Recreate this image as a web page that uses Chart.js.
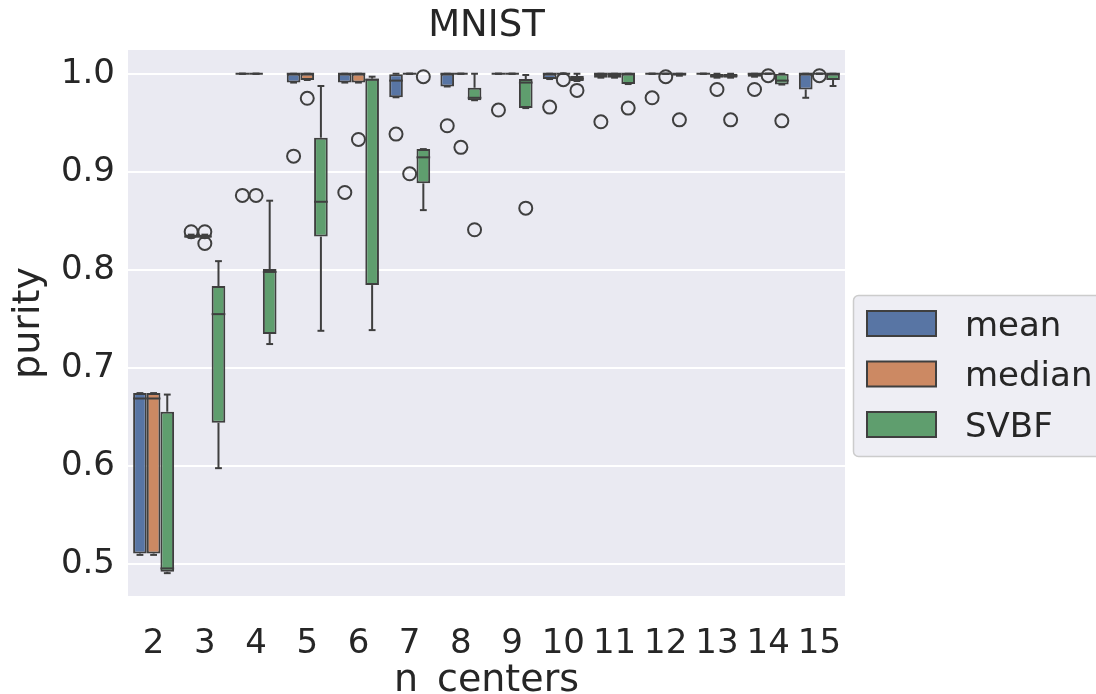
<!DOCTYPE html>
<html>
<head>
<meta charset="utf-8">
<script src="https://cdn.jsdelivr.net/npm/chart.js@4"></script>
<style>
  html, body { margin: 0; padding: 0; background: #fff; }
</style>
</head>
<body>
<canvas id="purityChart" width="1096" height="694"></canvas>
<script>
// n_centers categories
var centers = ["2", "3", "4", "5", "6", "7", "8", "9", "10", "11", "12", "13", "14", "15"];
var yTicks = [0.5, 0.6, 0.7, 0.8, 0.9, 1.0];
var yMin = 0.4677;
var yMax = 1.0242;

// mean
var meanQ1  = [0.511, 0.833, 1.0, 0.991, 0.991, 0.976, 0.987, 1.0, 0.9946, 0.996, 1.0, 1.0, 0.997, 0.984];
var meanMed = [0.669, 0.834, 1.0, 1.0, 1.0, 0.993, 1.0, 1.0, 1.0, 1.0, 1.0, 1.0, 1.0, 1.0];
var meanQ3  = [0.6745, 0.836, 1.0, 1.0, 1.0, 0.9994, 1.0, 1.0, 1.0, 1.0, 1.0, 1.0, 1.0, 1.0];
var meanLo  = [0.5096, 0.833, 1.0, 0.991, 0.991, 0.976, 0.987, 1.0, 0.9946, 0.996, 1.0, 1.0, 0.997, 0.9755];
var meanHi  = [0.6745, 0.836, 1.0, 1.0, 1.0, 1.0, 1.0, 1.0, 1.0, 1.0, 1.0, 1.0, 1.0, 1.0];
var meanOut = [[], [0.839], [0.876], [0.916], [0.879], [0.9385], [0.947], [0.963], [0.966], [0.951], [0.9755], [], [0.984], []];

// median
var medianQ1  = [0.511, 0.833, 1.0, 0.9936, 0.991, 1.0, 1.0, 1.0, 1.0, 0.996, 1.0, 0.996, 1.0, 1.0];
var medianMed = [0.669, 0.834, 1.0, 1.0, 1.0, 1.0, 1.0, 1.0, 1.0, 1.0, 1.0, 0.998, 1.0, 1.0];
var medianQ3  = [0.6745, 0.836, 1.0, 1.0, 1.0, 1.0, 1.0, 1.0, 1.0, 1.0, 1.0, 1.0, 1.0, 1.0];
var medianLo  = [0.5096, 0.833, 1.0, 0.9936, 0.991, 1.0, 1.0, 1.0, 1.0, 0.996, 1.0, 0.996, 1.0, 1.0];
var medianHi  = [0.6745, 0.836, 1.0, 1.0, 1.0, 1.0, 1.0, 1.0, 1.0, 1.0, 1.0, 1.0, 1.0, 1.0];
var medianOut = [[], [0.839, 0.827], [0.876], [0.975], [0.933], [0.898], [0.925], [], [0.994], [], [0.997], [0.984], [0.998], [0.998]];

// SVBF
var svbfQ1  = [0.4924, 0.6443, 0.7347, 0.834, 0.7846, 0.8883, 0.973, 0.965, 0.9926, 0.9895, 0.998, 0.996, 0.989, 0.9936];
var svbfMed = [0.4958, 0.755, 0.798, 0.8695, 0.994, 0.9148, 0.9755, 0.991, 0.995, 1.0, 1.0, 0.998, 0.993, 1.0];
var svbfQ3  = [0.6555, 0.7836, 0.801, 0.9348, 0.995, 0.9232, 0.9857, 0.9946, 0.9977, 1.0, 1.0, 1.0, 1.0, 1.0];
var svbfLo  = [0.491, 0.598, 0.7245, 0.738, 0.7387, 0.861, 0.973, 0.965, 0.9926, 0.9895, 0.998, 0.996, 0.989, 0.9875];
var svbfHi  = [0.673, 0.809, 0.8706, 0.9875, 0.997, 0.9232, 1.0, 0.9987, 1.0, 1.0, 1.0, 1.0, 1.0, 1.0];
var svbfOut = [[], [], [], [], [], [0.997], [0.841], [0.863], [0.983], [0.965], [0.953], [0.953], [0.952], []];

var chartTitle = "MNIST";
var lineGray = "#3f3f3f";
var textColor = "#262626";
var fontFamily = "'DejaVu Sans', sans-serif";

// floating bar = the box (q1..q3), extra stats ride along on the dataset
function boxDataset(label, color, q1, med, q3, lo, hi, out) {
  return {
    label: label,
    data: q1.map(function (v, i) { return [v, q3[i]]; }),
    backgroundColor: color,
    borderColor: lineGray,
    borderWidth: 2,
    borderSkipped: false,
    med: med,
    lo: lo,
    hi: hi,
    out: out
  };
}

function strokeLine(ctx, x1, y1, x2, y2) {
  ctx.beginPath();
  ctx.moveTo(x1, y1);
  ctx.lineTo(x2, y2);
  ctx.stroke();
}

// background, whiskers, medians, fliers, title over the plot and the legend box
var boxExtras = {
  id: "boxExtras",
  beforeDraw: function (chart) {
    var a = chart.chartArea;
    var ctx = chart.ctx;
    ctx.save();
    ctx.fillStyle = "#eaeaf2";
    ctx.fillRect(a.left, a.top, a.right - a.left, a.bottom - a.top);
    ctx.restore();
  },
  afterDatasetsDraw: function (chart) {
    var ctx = chart.ctx;
    var y = chart.scales.y;
    ctx.save();
    ctx.strokeStyle = lineGray;
    ctx.lineWidth = 2;
    chart.data.datasets.forEach(function (ds, di) {
      var meta = chart.getDatasetMeta(di);
      meta.data.forEach(function (bar, j) {
        var x = bar.x;
        var half = bar.width / 2;
        var cap = bar.width / 4;
        var yQ1 = y.getPixelForValue(ds.data[j][0]);
        var yQ3 = y.getPixelForValue(ds.data[j][1]);
        var yLo = y.getPixelForValue(ds.lo[j]);
        var yHi = y.getPixelForValue(ds.hi[j]);
        var yMed = y.getPixelForValue(ds.med[j]);
        strokeLine(ctx, x, yQ3, x, yHi);
        strokeLine(ctx, x - cap, yHi, x + cap, yHi);
        strokeLine(ctx, x, yQ1, x, yLo);
        strokeLine(ctx, x - cap, yLo, x + cap, yLo);
        strokeLine(ctx, x - half, yMed, x + half, yMed);
        ds.out[j].forEach(function (v) {
          ctx.beginPath();
          ctx.arc(x, y.getPixelForValue(v), 6.5, 0, Math.PI * 2);
          ctx.stroke();
        });
      });
    });
    ctx.restore();
  },
  afterDraw: function (chart) {
    var ctx = chart.ctx;
    var a = chart.chartArea;
    ctx.save();
    // title centred over the axes
    ctx.fillStyle = textColor;
    ctx.font = "37px " + fontFamily;
    ctx.textAlign = "center";
    ctx.textBaseline = "alphabetic";
    ctx.fillText(chartTitle, (a.left + a.right) / 2, 36);
    // legend frame
    ctx.fillStyle = "#eeeef4";
    ctx.strokeStyle = "#cccccc";
    ctx.lineWidth = 1.5;
    ctx.beginPath();
    ctx.roundRect(853.5, 295.5, 270, 161, 5);
    ctx.fill();
    ctx.stroke();
    // legend entries
    ctx.font = "34px " + fontFamily;
    ctx.textAlign = "left";
    chart.data.datasets.forEach(function (ds, i) {
      var cy = 323.5 + i * 50.5;
      ctx.fillStyle = ds.backgroundColor;
      ctx.fillRect(867, cy - 12.5, 69, 25);
      ctx.strokeStyle = lineGray;
      ctx.lineWidth = 2;
      ctx.strokeRect(867, cy - 12.5, 69, 25);
      ctx.fillStyle = textColor;
      ctx.fillText(ds.label, 965, cy + 12);
    });
    ctx.restore();
  }
};

var ctx = document.getElementById("purityChart").getContext("2d");
var purityChart = new Chart(ctx, {
  type: "bar",
  data: {
    labels: centers,
    datasets: [
      boxDataset("mean", "#5875a4", meanQ1, meanMed, meanQ3, meanLo, meanHi, meanOut),
      boxDataset("median", "#cc8963", medianQ1, medianMed, medianQ3, medianLo, medianHi, medianOut),
      boxDataset("SVBF", "#5f9e6e", svbfQ1, svbfMed, svbfQ3, svbfLo, svbfHi, svbfOut)
    ]
  },
  options: {
    responsive: false,
    animation: false,
    devicePixelRatio: 1,
    layout: { padding: { left: 0, right: 251, top: 50, bottom: 0 } },
    datasets: { bar: { categoryPercentage: 0.8, barPercentage: 1.0 } },
    plugins: {
      legend: { display: false },
      tooltip: { enabled: false },
      title: { display: false }
    },
    scales: {
      x: {
        grid: { display: false },
        border: { display: false },
        ticks: { color: textColor, font: { family: fontFamily, size: 34 }, padding: 19.6 },
        title: {
          display: true,
          text: "n_centers",
          color: textColor,
          font: { family: fontFamily, size: 38, lineHeight: 1 },
          padding: { top: 0, bottom: -6 }
        },
        afterFit: function (s) { s.height = 98; }
      },
      y: {
        min: yMin,
        max: yMax,
        afterBuildTicks: function (s) {
          s.ticks = yTicks.map(function (v) { return { value: v }; });
        },
        grid: { color: "#ffffff", lineWidth: 2, drawTicks: false },
        border: { display: false },
        ticks: {
          color: textColor,
          font: { family: fontFamily, size: 34 },
          padding: 13,
          callback: function (v) { return Number(v).toFixed(1); }
        },
        title: {
          display: true,
          text: "purity",
          color: textColor,
          font: { family: fontFamily, size: 38, lineHeight: 1 },
          padding: { top: 10, bottom: 0 }
        },
        afterFit: function (s) { s.width = 128; }
      }
    }
  },
  plugins: [boxExtras]
});
</script>
</body>
</html>
